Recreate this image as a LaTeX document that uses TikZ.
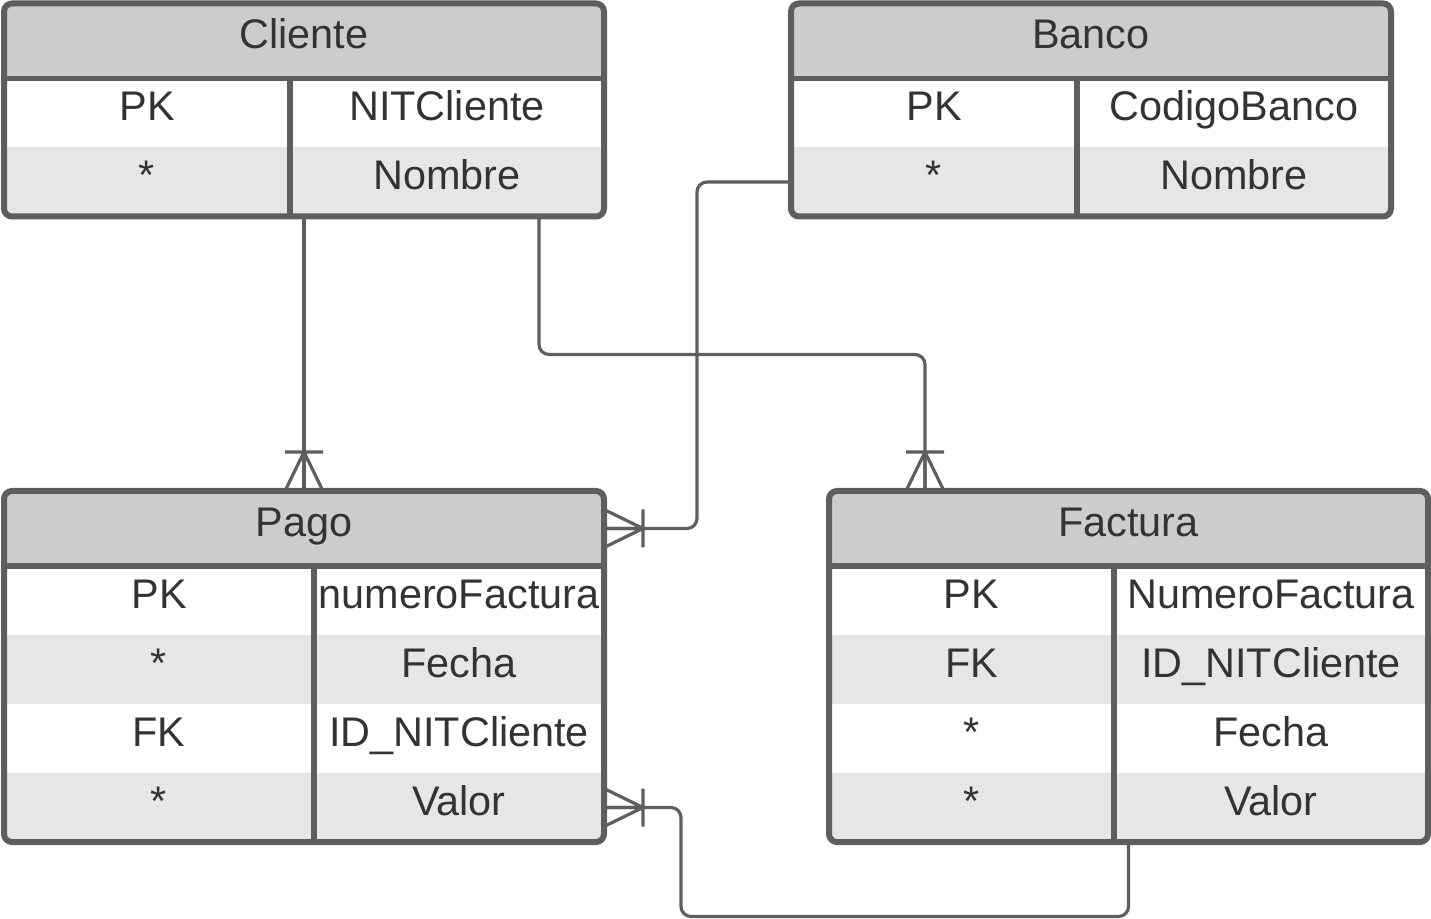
\documentclass[tikz,border=0pt]{standalone}
\usepackage{fontspec}
\setmainfont{Liberation Sans}
\usepackage{xcolor}
\usepackage{tikz}
\usetikzlibrary{
    arrows.meta,
    positioning
}

\definecolor{linegray}{HTML}{5E5E5E}
\definecolor{textgray}{HTML}{333333}
\definecolor{headgray}{HTML}{CCCCCC}
\definecolor{rowgray}{HTML}{E6E6E6}

\begin{document}
\begin{tikzpicture}[
x=0.5pt, y=-0.5pt,
every node/.style={
inner sep=0pt,
outer sep=0pt,
text=textgray,
font=\fontsize{20.7}{24}\selectfont,
text height=15pt,
text depth=7pt
},
head/.style={
fill=headgray,
minimum width=300pt,
minimum height=37.5pt
},
cell/.style={
minimum height=34.5pt
},
odd/.style={cell, fill=white},
even/.style={cell, fill=rowgray},
frame/.style={
draw=linegray,
line width=3pt,
rounded corners=4pt
},
rule/.style={
draw=linegray,
line width=2.6pt
},
conn/.style={
draw=linegray,
line width=1.6pt,
rounded corners=5pt
},
manyone/.pic={
\draw[conn, rounded corners=0pt]
(0,-19) -- (39,0) -- (0,19)
(0,0) -- (39,0)
(39,-19) -- (39,19);
}
]

\useasboundingbox (0,0) rectangle (1431,919);

% Cliente
\node[head] (cliente) at (304,41) {Cliente};
\node[odd, minimum width=143pt,
below right=0pt and 0pt of cliente.south west] (cliente-k1) {PK};
\node[odd, minimum width=157pt,
right=0pt of cliente-k1] (cliente-v1) {NITCliente};
\node[even, minimum width=143pt,
below=0pt of cliente-k1] (cliente-k2) {*};
\node[even, minimum width=157pt,
right=0pt of cliente-k2] (cliente-v2) {Nombre};
\draw[rule] (cliente.south west) -- (cliente.south east);
\draw[rule] (cliente-k1.north east) -- (cliente-k2.south east);
\draw[frame] (cliente.north west) rectangle (cliente-v2.south east);

% Banco
\node[head] (banco) at (1091,41) {Banco};
\node[odd, minimum width=143pt,
below right=0pt and 0pt of banco.south west] (banco-k1) {PK};
\node[odd, minimum width=157pt,
right=0pt of banco-k1] (banco-v1) {CodigoBanco};
\node[even, minimum width=143pt,
below=0pt of banco-k1] (banco-k2) {*};
\node[even, minimum width=157pt,
right=0pt of banco-k2] (banco-v2) {Nombre};
\draw[rule] (banco.south west) -- (banco.south east);
\draw[rule] (banco-k1.north east) -- (banco-k2.south east);
\draw[frame] (banco.north west) rectangle (banco-v2.south east);

% Pago
\node[head] (pago) at (304,528.5) {Pago};
\node[odd, minimum width=155pt,
below right=0pt and 0pt of pago.south west] (pago-k1) {PK};
\node[odd, minimum width=145pt,
right=0pt of pago-k1] (pago-v1) {numeroFactura};
\node[even, minimum width=155pt,
below=0pt of pago-k1] (pago-k2) {*};
\node[even, minimum width=145pt,
right=0pt of pago-k2] (pago-v2) {Fecha};
\node[odd, minimum width=155pt,
below=0pt of pago-k2] (pago-k3) {FK};
\node[odd, minimum width=145pt,
right=0pt of pago-k3] (pago-v3) {ID\_NITCliente};
\node[even, minimum width=155pt,
below=0pt of pago-k3] (pago-k4) {*};
\node[even, minimum width=145pt,
right=0pt of pago-k4] (pago-v4) {Valor};
\draw[rule] (pago.south west) -- (pago.south east);
\draw[rule] (pago-k1.north east) -- (pago-k4.south east);
\draw[frame] (pago.north west) rectangle (pago-v4.south east);

% Factura
\node[head, minimum width=299.5pt] (factura) at (1128.5,528.5) {Factura};
\node[odd, minimum width=142.5pt,
below right=0pt and 0pt of factura.south west] (factura-k1) {PK};
\node[odd, minimum width=157pt,
right=0pt of factura-k1] (factura-v1) {NumeroFactura};
\node[even, minimum width=142.5pt,
below=0pt of factura-k1] (factura-k2) {FK};
\node[even, minimum width=157pt,
right=0pt of factura-k2] (factura-v2) {ID\_NITCliente};
\node[odd, minimum width=142.5pt,
below=0pt of factura-k2] (factura-k3) {*};
\node[odd, minimum width=157pt,
right=0pt of factura-k3] (factura-v3) {Fecha};
\node[even, minimum width=142.5pt,
below=0pt of factura-k3] (factura-k4) {*};
\node[even, minimum width=157pt,
right=0pt of factura-k4] (factura-v4) {Valor};
\draw[rule] (factura.south west) -- (factura.south east);
\draw[rule] (factura-k1.north east) -- (factura-k4.south east);
\draw[frame] (factura.north west) rectangle (factura-v4.south east);

% relations
\draw[conn] (cliente |- cliente-k2.south) -- (pago.north);
\pic[rotate=90] at (pago.north) {manyone};

\draw[conn] ([xshift=-32.5pt]cliente-v2.south east) -- ++(0,138)
-| ([xshift=-101.75pt]factura.north);
\pic[rotate=90] at ([xshift=-101.75pt]factura.north) {manyone};

\draw[conn] (banco-k2.west) -- ++(-94,0) |- (pago.east);
\pic at (pago.east) {manyone};

\draw[conn] (factura |- factura-k4.south) -- ++(0,74.5)
-| ([xshift=38.5pt]pago-v4.east) -- (pago-v4.east);
\pic at (pago-v4.east) {manyone};

\end{tikzpicture}
\end{document}
